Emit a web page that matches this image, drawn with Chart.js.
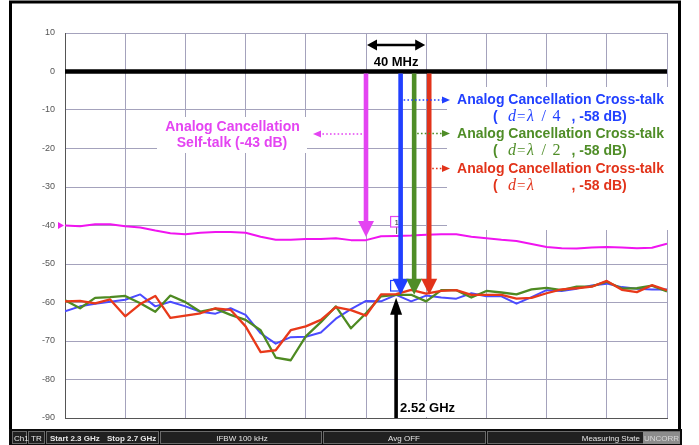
<!DOCTYPE html>
<html>
<head>
<meta charset="utf-8">
<script src="https://cdn.jsdelivr.net/npm/chart.js@4.4.1/dist/chart.umd.min.js"></script>
<style>
  html, body { margin: 0; padding: 0; background: #ffffff; }
  canvas { display: block; }
</style>
</head>
<body>
<canvas id="chart" width="699" height="445"></canvas>
<script>
// Sweep frequencies (MHz), 2.3 GHz to 2.7 GHz
const freqMHz = [2300, 2310, 2320, 2330, 2340, 2350, 2360, 2370, 2380, 2390,
                 2400, 2410, 2420, 2430, 2440, 2450, 2460, 2470, 2480, 2490,
                 2500, 2510, 2520, 2530, 2540, 2550, 2560, 2570, 2580, 2590,
                 2600, 2610, 2620, 2630, 2640, 2650, 2660, 2670, 2680, 2690, 2700];

// Analog cancellation self-talk (dB)
const selfTalkDb = [-40.0, -40.2, -39.7, -39.7, -40.2, -40.5, -41.3, -42.0, -42.3, -41.9,
                    -41.7, -41.7, -41.9, -42.9, -43.7, -43.7, -43.5, -43.5, -43.3, -43.8,
                    -43.8, -42.8, -42.7, -42.6, -42.4, -42.3, -42.3, -42.9, -43.3, -43.7,
                    -44.0, -44.8, -45.6, -45.9, -46.0, -45.7, -45.6, -45.7, -45.9, -45.8, -44.7];

// Analog cancellation cross-talk, d = λ/4 (dB)
const crossQuarterDb = [-62.3, -61.0, -60.3, -59.8, -59.3, -57.9, -61.0, -59.8, -61.0, -62.4,
                        -62.9, -61.5, -63.2, -68.0, -70.7, -69.0, -68.9, -67.8, -64.2, -61.7,
                        -59.6, -59.7, -58.0, -59.7, -58.2, -58.7, -59.0, -57.6, -58.4, -58.4,
                        -60.3, -58.6, -56.8, -57.0, -56.4, -55.6, -55.1, -56.0, -56.4, -56.6, -56.6];

// Analog cancellation cross-talk, d = λ/2 (dB)
const crossHalfDb = [-59.4, -61.5, -58.8, -58.6, -58.3, -60.2, -62.4, -58.2, -59.9, -62.4,
                     -61.6, -63.2, -64.5, -67.2, -74.3, -75.0, -68.8, -65.1, -61.0, -66.7,
                     -62.8, -58.4, -58.0, -58.0, -59.7, -56.8, -56.8, -58.7, -57.0, -57.4,
                     -57.9, -56.6, -56.2, -56.8, -55.9, -55.8, -54.6, -56.4, -56.3, -55.6, -57.1];

// Analog cancellation cross-talk, d = λ (dB)
const crossFullDb = [-59.7, -59.6, -60.2, -59.2, -63.6, -60.4, -58.3, -64.0, -63.4, -62.8,
                     -61.5, -61.9, -66.2, -72.9, -72.4, -67.2, -66.2, -64.5, -61.2, -62.0,
                     -63.4, -57.9, -57.8, -56.7, -57.7, -57.0, -56.8, -58.0, -58.0, -58.0,
                     -59.0, -58.8, -57.6, -56.6, -56.3, -55.9, -54.4, -56.7, -57.3, -55.5, -56.8];

// Reference level line (dB) and axis ticks
const refLevelDb = 0;
const yTickValues = [10, 0, -10, -20, -30, -40, -50, -60, -70, -80, -90];
const xGridMHz = [2300, 2340, 2380, 2420, 2460, 2500, 2540, 2580, 2620, 2660, 2700];

const dropFreqMHz = [2500, 2523, 2532, 2542];
const dropLevelDb = [-43, -58, -58, -58];
const markerFreqMHz = 2520;   // 2.52 GHz marker
const markerLevelDb = -58;
const spanStartMHz = 2500;    // 40 MHz span
const spanEndMHz = 2540;

const MAGENTA = '#e444f2', BLUE = '#2140ff', GREEN = '#4f8d27', RED = '#e2331a';
const SANS = '"Liberation Sans", Arial, Helvetica, sans-serif';
const SERIF = '"Liberation Serif", "Times New Roman", serif';

const toXY = arr => arr.map((v, i) => ({ x: freqMHz[i], y: v }));

function arrowDown(ctx, x, y0, y1, color, shaftW, headW, headH) {
  ctx.fillStyle = color;
  ctx.fillRect(x - shaftW / 2, y0, shaftW, (y1 - headH) - y0 + 1);
  ctx.beginPath();
  ctx.moveTo(x - headW / 2, y1 - headH);
  ctx.lineTo(x + headW / 2, y1 - headH);
  ctx.lineTo(x, y1);
  ctx.closePath();
  ctx.fill();
}

function arrowUp(ctx, x, y0, y1, color, shaftW, headW, headH) {
  ctx.fillStyle = color;
  ctx.fillRect(x - shaftW / 2, y1 + headH - 1, shaftW, y0 - (y1 + headH) + 1);
  ctx.beginPath();
  ctx.moveTo(x - headW / 2, y1 + headH);
  ctx.lineTo(x + headW / 2, y1 + headH);
  ctx.lineTo(x, y1);
  ctx.closePath();
  ctx.fill();
}

function dottedPointer(ctx, xFrom, xTip, y, color, dir) {
  const headL = 8, headH = 7;
  const xBase = xTip - dir * headL;
  ctx.save();
  ctx.strokeStyle = color;
  ctx.lineWidth = 1.6;
  ctx.setLineDash([1.6, 2.2]);
  ctx.beginPath();
  ctx.moveTo(xFrom, y);
  ctx.lineTo(xBase, y);
  ctx.stroke();
  ctx.restore();
  ctx.fillStyle = color;
  ctx.beginPath();
  ctx.moveTo(xBase, y - headH / 2);
  ctx.lineTo(xBase, y + headH / 2);
  ctx.lineTo(xTip, y);
  ctx.closePath();
  ctx.fill();
}

function crossLabel(ctx, cx, base1, color, denom) {
  ctx.fillStyle = color;
  ctx.textBaseline = 'alphabetic';
  ctx.textAlign = 'center';
  ctx.font = 'bold 14px ' + SANS;
  ctx.fillText('Analog Cancellation Cross-talk', cx, base1);
  const b2 = base1 + 16.5;
  ctx.textAlign = 'left';
  ctx.font = 'bold 14px ' + SANS;
  ctx.fillText('(', cx - 67.5, b2);
  ctx.font = 'italic 16px ' + SERIF;
  ctx.fillText('d', cx - 52.5, b2);
  ctx.font = '15px ' + SERIF;
  ctx.fillText('=', cx - 43.5, b2);
  ctx.font = 'italic 16px ' + SERIF;
  ctx.fillText('\u03BB', cx - 33.5, b2);
  if (denom) {
    ctx.font = '16px ' + SERIF;
    ctx.fillText('/', cx - 19, b2);
    ctx.fillText(denom, cx - 8, b2);
  }
  ctx.font = 'bold 14px ' + SANS;
  ctx.fillText(', -58 dB)', cx + 11, b2);
}

const overlayPlugin = {
  id: 'cancellationOverlay',
  beforeDatasetsDraw(chart) {
    const ctx = chart.ctx;
    ctx.save();
    ctx.fillStyle = '#ffffff';
    // label backgrounds
    ctx.fillRect(157, 117, 150, 36);
    ctx.fillRect(447, 87, 233, 143);
    ctx.fillRect(397, 401, 60, 16);
    ctx.restore();
  },
  afterDatasetsDraw(chart) {
    const ctx = chart.ctx;
    const sx = v => chart.scales.x.getPixelForValue(v);
    const sy = v => chart.scales.y.getPixelForValue(v);
    const y0 = sy(refLevelDb) + 2;
    ctx.save();

    // trace markers
    const mx = sx(markerFreqMHz);
    ctx.strokeStyle = '#555';
    ctx.lineWidth = 1;
    ctx.beginPath(); ctx.moveTo(mx + 0.5, 227); ctx.lineTo(mx + 0.5, 234); ctx.stroke();
    ctx.fillStyle = '#fff';
    ctx.fillRect(mx - 6, 216, 12, 11);
    ctx.strokeStyle = MAGENTA; ctx.lineWidth = 1.2;
    ctx.strokeRect(mx - 5.5, 216.5, 11, 10.5);
    ctx.fillStyle = '#333'; ctx.font = '8px ' + SANS; ctx.textAlign = 'center';
    ctx.fillText('1', mx + 0.5, 225);
    ctx.strokeStyle = BLUE; ctx.lineWidth = 1.2;
    ctx.strokeRect(mx - 5.5, 280.5, 11.5, 10.5);

    // vertical drop arrows from the 0 dB line
    const colors = [MAGENTA, BLUE, GREEN, RED];
    dropFreqMHz.forEach((f, i) => {
      arrowDown(ctx, sx(f), y0, sy(dropLevelDb[i]), colors[i], 4.6, 16, 16);
    });

    // 2.52 GHz marker arrow from the bottom
    arrowUp(ctx, sx(markerFreqMHz), chart.chartArea.bottom, sy(markerLevelDb) + 3, '#000', 3.6, 12, 17);
    ctx.fillStyle = '#000';
    ctx.textAlign = 'left';
    ctx.font = 'bold 13px ' + SANS;
    ctx.fillText('2.52 GHz', sx(markerFreqMHz) + 4, 412);

    // 40 MHz span arrow
    const xa = sx(spanStartMHz) + 1, xb = sx(spanEndMHz) - 1, ya = 45;
    ctx.strokeStyle = '#000'; ctx.lineWidth = 2.6;
    ctx.beginPath(); ctx.moveTo(xa + 8, ya); ctx.lineTo(xb - 8, ya); ctx.stroke();
    ctx.fillStyle = '#000';
    ctx.beginPath(); ctx.moveTo(xa, ya); ctx.lineTo(xa + 10, ya - 5.5); ctx.lineTo(xa + 10, ya + 5.5); ctx.closePath(); ctx.fill();
    ctx.beginPath(); ctx.moveTo(xb, ya); ctx.lineTo(xb - 10, ya - 5.5); ctx.lineTo(xb - 10, ya + 5.5); ctx.closePath(); ctx.fill();
    ctx.textAlign = 'center';
    ctx.font = 'bold 13px ' + SANS;
    ctx.fillText('40 MHz', (xa + xb) / 2, 66);

    // self-talk label
    ctx.fillStyle = MAGENTA;
    ctx.font = 'bold 14px ' + SANS;
    ctx.textAlign = 'center';
    ctx.fillText('Analog Cancellation', 232.5, 131);
    ctx.fillText('Self-talk (-43 dB)', 232, 147);
    dottedPointer(ctx, sx(dropFreqMHz[0]) - 4, 313, 134, MAGENTA, -1);

    // cross-talk labels
    dottedPointer(ctx, sx(dropFreqMHz[1]) + 3, 450, 100, BLUE, 1);
    dottedPointer(ctx, sx(dropFreqMHz[2]) + 3, 450, 133.5, GREEN, 1);
    dottedPointer(ctx, sx(dropFreqMHz[3]) + 3, 450, 168.5, RED, 1);
    crossLabel(ctx, 560.5, 104, BLUE, '4');
    crossLabel(ctx, 560.5, 138.3, GREEN, '2');
    crossLabel(ctx, 560.5, 173, RED, '');

    ctx.restore();
  },
  afterDraw(chart) {
    const ctx = chart.ctx;
    const sy = v => chart.scales.y.getPixelForValue(v);
    ctx.save();
    // reference level pointer on the left edge
    const ry = sy(-40);
    ctx.fillStyle = '#f020f0';
    ctx.beginPath(); ctx.moveTo(58, ry - 3.5); ctx.lineTo(58, ry + 3.5); ctx.lineTo(64, ry); ctx.closePath(); ctx.fill();

    // instrument frame
    ctx.strokeStyle = '#000';
    ctx.lineWidth = 3;
    ctx.beginPath();
    ctx.moveTo(10.5, 432); ctx.lineTo(10.5, 2); ctx.lineTo(679.5, 2); ctx.lineTo(679.5, 432);
    ctx.stroke();

    // status bar
    ctx.fillStyle = '#0c0c0c';
    ctx.fillRect(9, 429, 673, 16);
    const fields = [[12, 27], [28, 45], [46, 159], [160, 322], [323, 486], [487, 680]];
    ctx.strokeStyle = '#6a6a6a';
    ctx.lineWidth = 1;
    fields.forEach(([a, b]) => { ctx.fillStyle = '#202020'; ctx.fillRect(a, 431, b - a, 13); ctx.strokeRect(a + 0.5, 431.5, b - a - 1, 12); });
    ctx.fillStyle = '#8c8c8c';
    ctx.fillRect(643, 432, 37, 12);
    ctx.textBaseline = 'alphabetic';
    ctx.fillStyle = '#e6e6e6';
    ctx.font = '8px ' + SANS;
    ctx.textAlign = 'left';
    ctx.fillText('Ch1', 14, 441);
    ctx.fillText('TR', 31, 441);
    ctx.font = 'bold 8px ' + SANS;
    ctx.fillText('Start 2.3 GHz', 50, 441);
    ctx.fillText('Stop 2.7 GHz', 107, 441);
    ctx.font = '8px ' + SANS;
    ctx.textAlign = 'center';
    ctx.fillText('IFBW 100 kHz', 242, 441);
    ctx.fillText('Avg OFF', 404, 441);
    ctx.textAlign = 'right';
    ctx.fillText('Measuring State', 640, 441);
    ctx.textAlign = 'center';
    ctx.fillStyle = '#d8d8d8';
    ctx.fillText('UNCORR', 661.5, 441);
    ctx.restore();
  }
};

const gridColor = '#a4a2bc';

new Chart(document.getElementById('chart').getContext('2d'), {
  type: 'line',
  data: {
    datasets: [
      { label: 'Reference 0 dB', data: [{ x: freqMHz[0], y: refLevelDb }, { x: freqMHz[freqMHz.length - 1], y: refLevelDb }],
        borderColor: '#000000', borderWidth: 4.5, order: 0 },
      { label: 'Cross-talk d = λ', data: toXY(crossFullDb), borderColor: '#e8391a', borderWidth: 2.3, order: 1 },
      { label: 'Cross-talk d = λ/2', data: toXY(crossHalfDb), borderColor: '#4e8a22', borderWidth: 2.3, order: 2 },
      { label: 'Cross-talk d = λ/4', data: toXY(crossQuarterDb), borderColor: '#4b4bff', borderWidth: 2, order: 3 },
      { label: 'Self-talk', data: toXY(selfTalkDb), borderColor: '#f014f0', borderWidth: 2, order: 4 }
    ]
  },
  options: {
    responsive: false,
    animation: false,
    devicePixelRatio: 1,
    layout: { padding: { left: 0, top: 33, right: 32, bottom: 27 } },
    plugins: { legend: { display: false }, tooltip: { enabled: false } },
    elements: { point: { radius: 0 }, line: { tension: 0, borderJoinStyle: 'round', fill: false } },
    scales: {
      x: {
        type: 'linear', min: 2300, max: 2700,
        afterBuildTicks: s => { s.ticks = xGridMHz.map(v => ({ value: v })); },
        ticks: { display: false },
        grid: { color: gridColor, lineWidth: 1, drawTicks: false },
        border: { color: '#555555', width: 1 },
        afterFit: s => { s.height = 0; }
      },
      y: {
        type: 'linear', min: -90, max: 10,
        afterBuildTicks: s => { s.ticks = yTickValues.map(v => ({ value: v })); },
        ticks: { color: '#555555', padding: 10, font: { family: 'Liberation Sans', size: 9 } },
        grid: { color: gridColor, lineWidth: 1, drawTicks: false },
        border: { color: '#555555', width: 1 },
        afterFit: s => { s.width = 65; }
      }
    }
  },
  plugins: [overlayPlugin]
});
</script>
</body>
</html>
